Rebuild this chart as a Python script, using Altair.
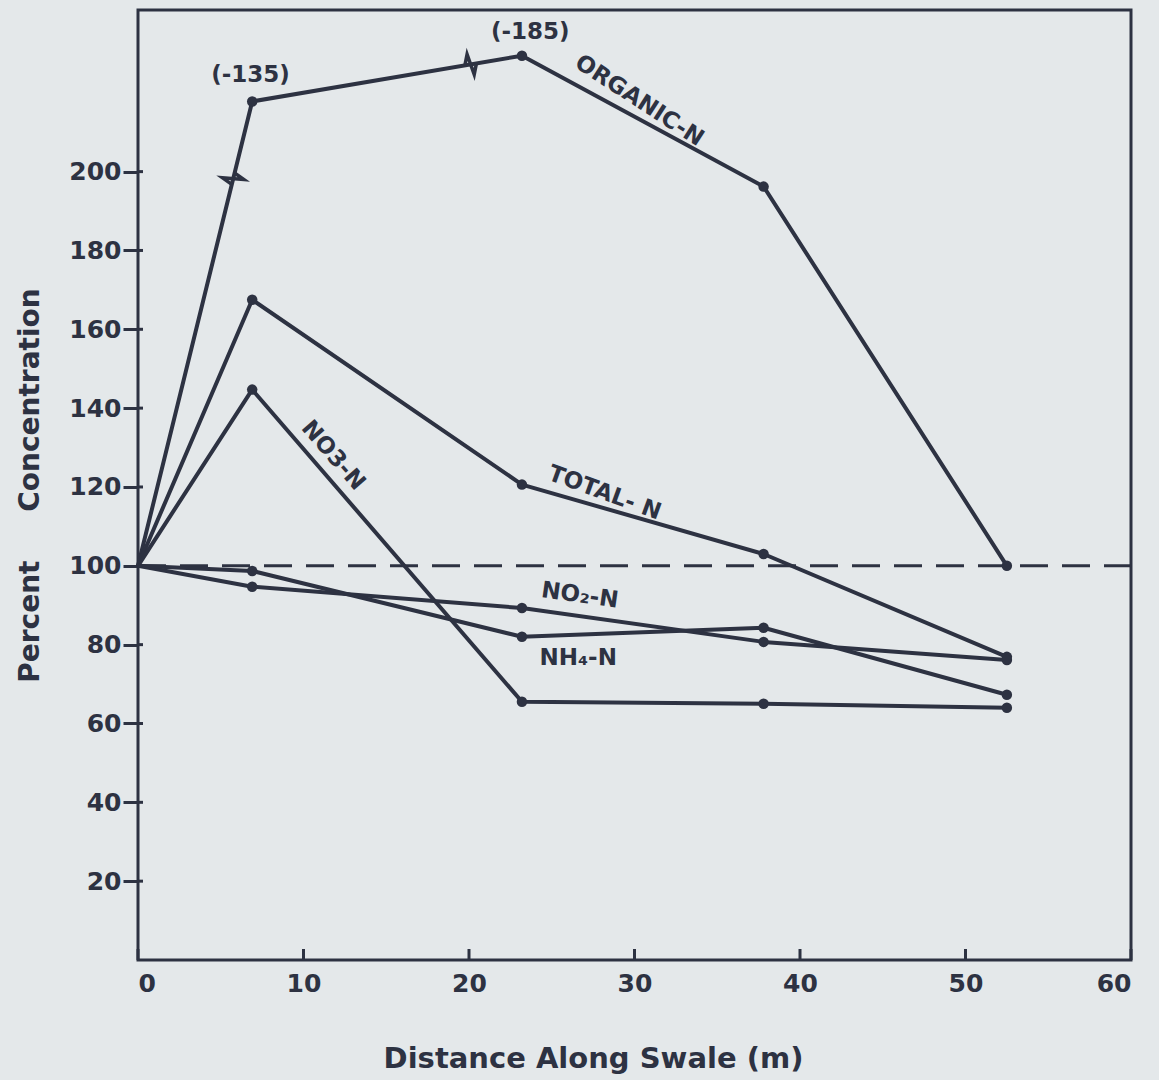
import altair as alt
import pandas as pd

# ---------------- data ----------------
distance = [0, 6.9, 23.2, 37.8, 52.5]
organic_n = [100, 217.8, 229.4, 196.2, 100]
total_n = [100, 167.5, 120.6, 103.0, 76.9]
no3_n = [100, 144.7, 65.5, 65.0, 64.0]
no2_n = [100, 94.7, 89.3, 80.7, 76.1]
nh4_n = [100, 98.7, 82.0, 84.3, 67.3]
series_names = ["ORGANIC-N", "TOTAL-N", "NO3-N", "NO2-N", "NH4-N"]

x_ticks = [0, 10, 20, 30, 40, 50, 60]
y_ticks = [20, 40, 60, 80, 100, 120, 140, 160, 180, 200]
reference_level = [100]

label_text = ["(-135)", "(-185)", "ORGANIC-N", "TOTAL- N", "NO3-N", "NO\u2082-N", "NH\u2084-N"]
label_x = [6.8, 23.7, 30.3, 28.2, 11.8, 26.7, 26.6]
label_y = [224.5, 235.5, 218.0, 118.5, 128.0, 92.5, 76.5]
label_angle = [0, 0, 33, 20, 49, 8, 0]

break_x = [5.75, 20.1]
break_y = [198.2, 227.2]
break_angle = [104, 350]

INK = "#2d3242"
BG = "#e4e8ea"

# ---------------- tables ----------------
series_values = [organic_n, total_n, no3_n, no2_n, nh4_n]
rows = []
for name, vals in zip(series_names, series_values):
    for d, v in zip(distance, vals):
        rows.append({"series": name, "distance": d, "pct": v})
df = pd.DataFrame(rows)
df_pts = df[df["distance"] > 0]

labels = pd.DataFrame({"text": label_text, "x": label_x, "y": label_y, "angle": label_angle})
breaks = pd.DataFrame({"x": break_x, "y": break_y, "angle": break_angle})
ref = pd.DataFrame({"y": reference_level})
xt = pd.DataFrame({"x": x_ticks})
yt = pd.DataFrame({"y": y_ticks})

xscale = alt.Scale(domain=[0, 60], nice=False, zero=False)
yscale = alt.Scale(domain=[0, 241], nice=False, zero=False)

x_enc = alt.X("distance:Q", scale=xscale,
              axis=alt.Axis(values=x_ticks, title="Distance Along Swale (m)", ticks=False,
                            labelPadding=11, titlePadding=48, titleX=455, titleAlign="center",
                            titleFontSize=29, grid=False, domain=False))
y_enc = alt.Y("pct:Q", scale=yscale,
              axis=alt.Axis(values=y_ticks,
                            title="Percent\u00a0\u00a0\u00a0\u00a0\u00a0Concentration",
                            tickSize=15, tickWidth=3, tickColor=INK, labelPadding=2,
                            titlePadding=24, titleFontSize=28, grid=False, domain=False))

lines = alt.Chart(df).mark_line(color=INK, strokeWidth=4, strokeJoin="round").encode(
    x=x_enc, y=y_enc, detail="series:N")

points = alt.Chart(df_pts).mark_circle(color=INK, opacity=1, size=110).encode(
    x=alt.X("distance:Q", scale=xscale), y=alt.Y("pct:Q", scale=yscale))

dashed = alt.Chart(ref).mark_rule(color=INK, strokeWidth=3, strokeDash=[28, 14]).encode(
    y=alt.Y("y:Q", scale=yscale), x=alt.value(0), x2=alt.value(993))

x_inner_ticks = alt.Chart(xt).mark_rule(color=INK, strokeWidth=3).encode(
    x=alt.X("x:Q", scale=xscale), y=alt.value(939), y2=alt.value(950))

y_inner_ticks = alt.Chart(yt).mark_rule(color=INK, strokeWidth=3).encode(
    y=alt.Y("y:Q", scale=yscale), x=alt.value(0), x2=alt.value(5))

zigzag = alt.Chart(breaks).mark_point(
    shape="M -0.5 0 L -0.15 -0.9 L 0.15 0.9 L 0.5 0", filled=False, color=INK,
    strokeWidth=3.5, size=550, opacity=1).encode(
    x=alt.X("x:Q", scale=xscale), y=alt.Y("y:Q", scale=yscale),
    angle=alt.Angle("angle:Q", scale=None))

texts = alt.Chart(labels).mark_text(color=INK, font="DejaVu Sans", fontWeight="bold",
                                    fontSize=23, align="center", baseline="middle").encode(
    x=alt.X("x:Q", scale=xscale), y=alt.Y("y:Q", scale=yscale),
    text="text:N", angle=alt.Angle("angle:Q", scale=None))

chart = alt.layer(dashed, lines, points, zigzag, texts, x_inner_ticks, y_inner_ticks).properties(
    width=993, height=950,
    autosize=alt.AutoSizeParams(type="none"),
    padding={"left": 138, "top": 10, "right": 28, "bottom": 120},
    background=BG,
).configure_view(stroke=INK, strokeWidth=3).configure_axis(
    labelFont="DejaVu Sans", labelFontWeight="bold", labelFontSize=25, labelColor=INK,
    titleFont="DejaVu Sans", titleFontWeight="bold", titleColor=INK,
)

chart.save("out.html", embed_options={"renderer": "svg", "actions": False})
